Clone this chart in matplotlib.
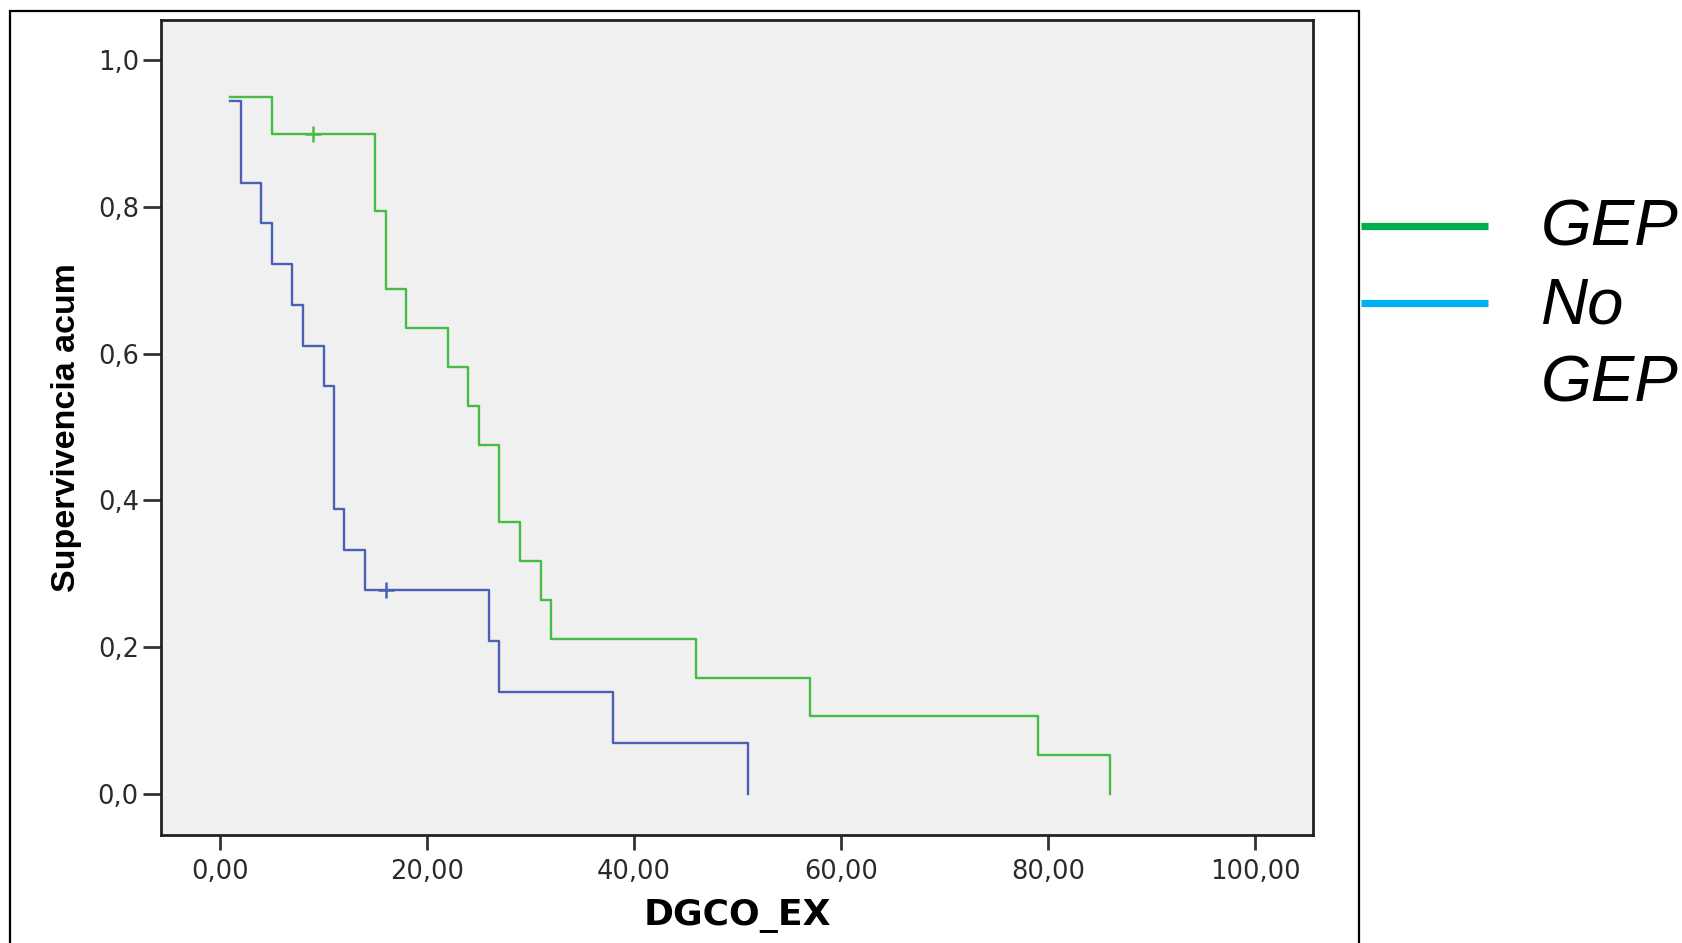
import numpy as np
import matplotlib
matplotlib.use("Agg")
import matplotlib.pyplot as plt
from matplotlib.lines import Line2D
from matplotlib.patches import Rectangle

# Kaplan-Meier estimates
gep_time = [1, 5, 15, 16, 18, 22, 24, 25, 27, 29, 31, 32, 46, 57, 79, 86]
gep_surv = [0.95, 0.90, 0.794, 0.688, 0.635, 0.582, 0.529, 0.476, 0.370,
            0.317, 0.264, 0.211, 0.158, 0.106, 0.053, 0.0]
gep_censor = [9]

nogep_time = [1, 2, 4, 5, 7, 8, 10, 11, 12, 14, 26, 27, 38, 51]
nogep_surv = [0.944, 0.833, 0.778, 0.722, 0.667, 0.611, 0.556, 0.389,
              0.333, 0.278, 0.208, 0.139, 0.069, 0.0]
nogep_censor = [16]

x_ticks = [0, 20, 40, 60, 80, 100]
x_ticklabels = ["0,00", "20,00", "40,00", "60,00", "80,00", "100,00"]
y_ticks = [0.0, 0.2, 0.4, 0.6, 0.8, 1.0]
y_ticklabels = ["0,0", "0,2", "0,4", "0,6", "0,8", "1,0"]

legend_labels = ["GEP", "No GEP"]
legend_colors = ["#00b050", "#00b0f0"]


def surv_at(times, surv, t):
    i = np.searchsorted(times, t, side="right") - 1
    return surv[i]


fig = plt.figure(figsize=(16.82, 9.43), dpi=100)
ax = fig.add_axes([161 / 1682, 1 - 835 / 943, 1152 / 1682, 815 / 943])
ax.set_facecolor("#f0f0f0")

ax.plot(gep_time, gep_surv, drawstyle="steps-post", color="#46bb46", lw=1.7)
ax.plot(nogep_time, nogep_surv, drawstyle="steps-post", color="#4b5fb5", lw=1.7)

for t in gep_censor:
    ax.plot(t, surv_at(gep_time, gep_surv, t), marker="+", ms=11, mew=1.8,
            color="#46bb46")
for t in nogep_censor:
    ax.plot(t, surv_at(nogep_time, nogep_surv, t), marker="+", ms=11, mew=1.8,
            color="#4b5fb5")

ax.set_xlim(-5.7, 105.6)
ax.set_ylim(-0.056, 1.055)
ax.set_xticks(x_ticks)
ax.set_xticklabels(x_ticklabels)
ax.set_yticks(y_ticks)
ax.set_yticklabels(y_ticklabels)

for s in ax.spines.values():
    s.set_linewidth(2.0)
    s.set_color("#222222")
ax.tick_params(axis="y", length=13, width=2, pad=3, labelsize=18.5,
               labelcolor="#2a2a2a", color="#333333")
ax.tick_params(axis="x", length=11, width=2, pad=6, labelsize=18.5,
               labelcolor="#2a2a2a", color="#333333")

ax.set_ylabel("Supervivencia acum", family="Liberation Sans", weight="bold",
              fontsize=24.5)
ax.yaxis.set_label_coords(-0.0686, 0.5)
ax.set_xlabel("DGCO_EX", family="DejaVu Sans", weight="bold", fontsize=26)
ax.xaxis.set_label_coords(0.5, -0.078)

# outer frame (open at the bottom)
fig.patches.append(Rectangle((10 / 1682, -0.05), 1349 / 1682, 1.05 - 11 / 943,
                             fill=False, lw=1.6, ec="black",
                             transform=fig.transFigure, clip_on=False))

# legend drawn at the right
line_y = [1 - 226 / 943, 1 - 303 / 943]
for lab, col, y in zip(legend_labels, legend_colors, line_y):
    fig.add_artist(Line2D([1361 / 1682, 1488 / 1682], [y, y], lw=5.2,
                          color=col, solid_capstyle="butt"))

text_y = [[1 - 229 / 943], [1 - 306 / 943, 1 - 384 / 943]]
for lab, ys in zip(legend_labels, text_y):
    for word, y in zip(lab.split(), ys):
        fig.text(1541 / 1682, y, word, family="Liberation Sans",
                 style="italic", fontsize=47, va="center", ha="left")

fig.savefig("out.png", dpi=100)
